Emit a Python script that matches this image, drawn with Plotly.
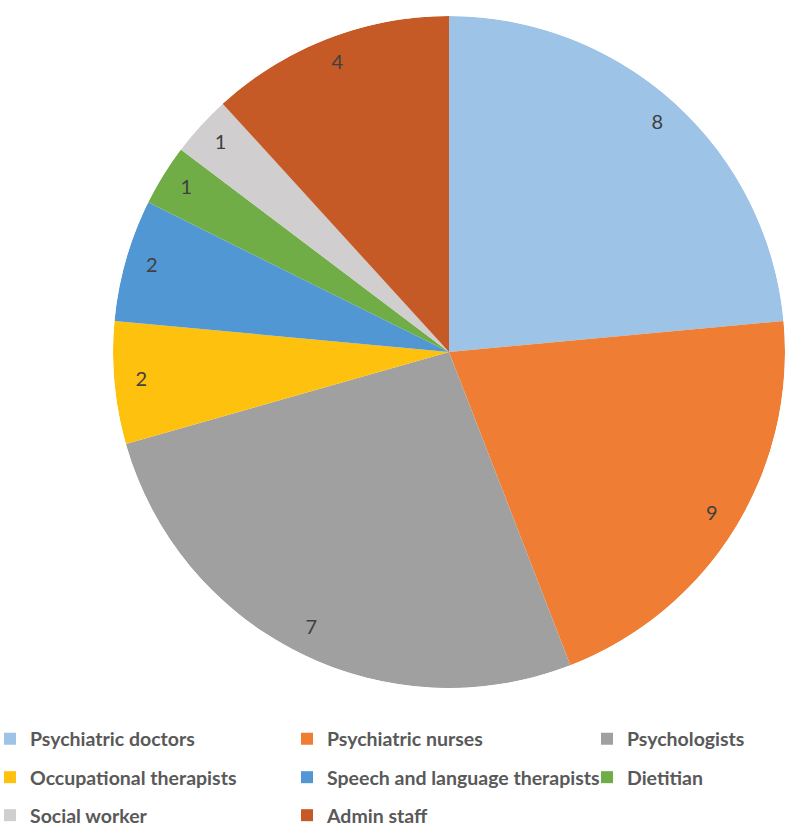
import plotly.graph_objects as go

categories = ["Psychiatric doctors", "Psychiatric nurses", "Psychologists",
              "Occupational therapists", "Speech and language therapists",
              "Dietitian", "Social worker", "Admin staff"]
# slice sizes as drawn
values = [8, 7, 9, 2, 2, 1, 1, 4]
# data labels as printed on the slices
labels_text = ["8", "9", "7", "2", "2", "1", "1", "4"]
colors = ["#9DC3E6", "#EF7E34", "#A0A0A0", "#FEC10E", "#5197D4",
          "#70AD47", "#D0CECE", "#C55A27"]

# legend layout (row, column) of each category
legend_row = [0, 0, 0, 1, 1, 1, 2, 2]
legend_col = [0, 1, 2, 0, 1, 2, 0, 1]

W, H = 785, 828
ML, MR, MT, MB = 113, 0, 16, 140
PW, PH = W - ML - MR, H - MT - MB

total = sum(values)
spans = [v / total * 360 for v in values]
mids = []
cum = 0
for v in values:
    mids.append((cum + v / 2) / total * 360)
    cum += v

fig = go.Figure()
for i, (cat, col) in enumerate(zip(categories, colors)):
    fig.add_trace(go.Barpolar(
        r=[1], theta=[mids[i]], width=[spans[i]], name=cat,
        marker=dict(color=col, line=dict(width=0)),
        legend="legend" if i == 0 else f"legend{i + 1}",
        hovertemplate=f"{cat}: {labels_text[i]}<extra></extra>",
    ))

fig.add_trace(go.Scatterpolar(
    r=[0.92] * len(values), theta=mids, mode="text", text=labels_text,
    textfont=dict(family="Lato", size=20, color="#404040"),
    showlegend=False, hoverinfo="skip",
))

row_px = [739, 777.5, 815.5]
col_px = [-10, 287, 587]

legends = {}
for i in range(len(categories)):
    key = "legend" if i == 0 else f"legend{i + 1}"
    legends[key] = dict(
        x=(col_px[legend_col[i]] - ML) / PW,
        y=(MT + PH - row_px[legend_row[i]]) / PH,
        xanchor="left", yanchor="middle",
        font=dict(family="Lato", size=19.5, color="#595959", weight="bold"),
        bgcolor="rgba(0,0,0,0)", borderwidth=0,
    )

fig.update_layout(
    width=W, height=H,
    margin=dict(l=ML, r=MR, t=MT, b=MB, autoexpand=False),
    paper_bgcolor="white", plot_bgcolor="white",
    polar=dict(domain=dict(x=[0, 1], y=[0, 1]), bgcolor="rgba(0,0,0,0)",
               bargap=0, hole=0,
               radialaxis=dict(range=[0, 1], visible=False, showgrid=False),
               angularaxis=dict(rotation=90, direction="clockwise",
                                visible=False, showgrid=False)),
    **legends,
)

fig.write_html("out.html")
